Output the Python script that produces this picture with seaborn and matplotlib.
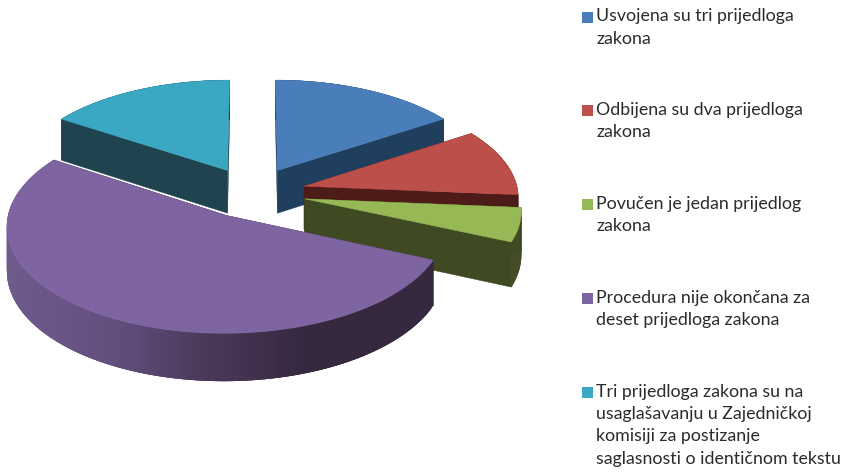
"""
Exploded 3D-style pie of the status of draft laws, drawn with a simple perspective projection.
"""

import numpy as np
import matplotlib.pyplot as plt
import seaborn as sns

counts = [3, 2, 1, 10, 3]
labels = [
    'Usvojena su tri prijedloga\nzakona',
    'Odbijena su dva prijedloga\nzakona',
    'Povučen je jedan prijedlog\nzakona',
    'Procedura nije okončana za\ndeset prijedloga zakona',
    'Tri prijedloga zakona su na\nusaglašavanju u Zajedničkoj\nkomisiji za postizanje\nsaglasnosti o identičnom tekstu',
]
top_colors = ['#4A7EBB', '#BD4F4B', '#96B956', '#7E64A0', '#3BA8C3']
wall_colors = ['#203F5F', '#4D1B18', '#404A22', '#352740', '#1F444F']
legend_y = [17, 110, 204, 298, 392]

# projection settings, in pixels of the output image
CX, CY = 252.5, 192.5
SCALE_X, SCALE_Y = 214, 102.5
PERSP = 0.092
EXPLODE = 0.25
DEPTH = 43.5
GRAD_LEFT, GRAD_RIGHT = 8, 310
DRAW_ORDER = [0, 4, 1, 2, 3]

sns.set_theme(style='white')
plt.rcParams['font.family'] = ['Lato', 'DejaVu Sans']
purple_wall = sns.blend_palette(['#6F5A8C', '#64507F', '#4A3859', '#36283F'], 128)


def project(x, y):
    s = 1 / (1 + PERSP * y)
    return CX + SCALE_X * x * s, CY - SCALE_Y * y * s, DEPTH * s ** 0.8


def draw_slice(ax, start, end, top, wall, gradient=None):
    mid = (start + end) / 2
    ox, oy = EXPLODE * np.sin(mid), EXPLODE * np.cos(mid)
    theta = np.linspace(start, end, 200)
    px, py, pd_ = project(ox + np.sin(theta), oy + np.cos(theta))
    ax_, ay, ad = project(ox, oy)

    # cut faces
    for i in (0, -1):
        xs = [ax_, px[i], px[i], ax_]
        ys = [ay, py[i], py[i] + pd_[i], ay + ad]
        ax.fill(xs, ys, color=wall, lw=0.3, zorder=1)

    # rim, in overlapping strips so it can carry a gradient without seams
    for i in range(len(theta) - 1):
        color = wall
        if gradient is not None:
            f = (px[i] - GRAD_LEFT) / (GRAD_RIGHT - GRAD_LEFT)
            color = gradient[int(np.clip(f, 0, 1) * (len(gradient) - 1))]
        j = min(i + 3, len(theta) - 1)
        xs = [px[i], px[j], px[j], px[i]]
        ys = [py[i], py[j], py[j] + pd_[j], py[i] + pd_[i]]
        ax.fill(xs, ys, color=color, lw=0, zorder=1)

    ax.fill(np.r_[ax_, px], np.r_[ay, py], color=top, lw=0.3, zorder=1)


def main():
    fig, ax = plt.subplots(figsize=(8.44, 4.72), dpi=100)
    fig.subplots_adjust(0, 0, 1, 1)
    ax.set_xlim(0, 844)
    ax.set_ylim(472, 0)
    ax.axis('off')

    edges = 2 * np.pi * np.r_[0, np.cumsum(counts)] / sum(counts)
    for i in DRAW_ORDER:
        draw_slice(ax, edges[i], edges[i + 1], top_colors[i], wall_colors[i],
                   gradient=purple_wall if i == 3 else None)

    for color, label, y in zip(top_colors, labels, legend_y):
        ax.add_patch(plt.Rectangle((582, y - 5), 11, 11, color=color, lw=0))
        ax.text(596.5, y - 8.5, label, fontsize=12.8, color='#2B2B2B', va='top', ha='left', linespacing=1.5)

    fig.savefig('out.png', dpi=100)


if __name__ == '__main__':
    main()
